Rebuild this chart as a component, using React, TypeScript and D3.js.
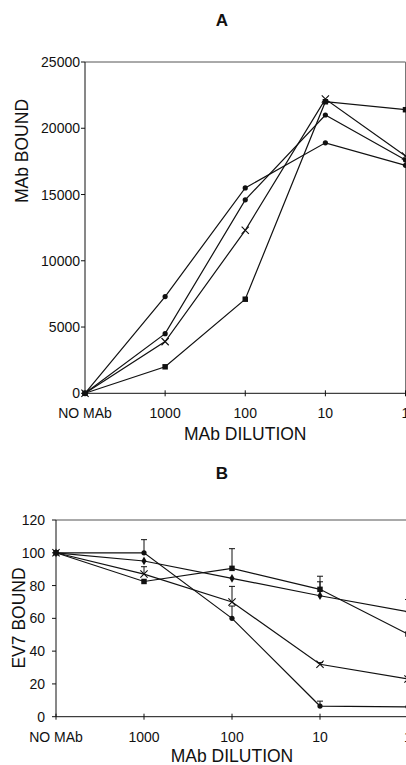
import React from 'react'
import * as d3 from 'd3'

const dilutions = ['NO MAb', '1000', '100', '10', '1']

// panel A - MAb bound
const boundTicks = [0, 5000, 10000, 15000, 20000, 25000]
const boundCircleHi = [0, 7300, 15500, 18900, 17200]
const boundCircleLo = [0, 4500, 14600, 21000, 17600]
const boundCross = [0, 3900, 12300, 22200, 17900]
const boundSquare = [0, 2000, 7100, 22000, 21400]

// panel B - EV7 bound (%), with upper error bars
const ev7Ticks = [0, 20, 40, 60, 80, 100, 120]
const ev7Circle = [100, 100, 60, 6.5, 6]
const ev7CircleErr = [0, 8, 7.5, 3, 0]
const ev7Square = [100, 82.5, 90.5, 77.7, 50.4]
const ev7SquareErr = [0, 0, 12, 8, 0]
const ev7Diamond = [100, 95, 84.4, 73.8, 64]
const ev7DiamondErr = [0, 0, 0, 8.5, 7.5]
const ev7Cross = [100, 87, 70, 32, 23]
const ev7CrossErr = [0, 4.5, 9.5, 1, 0]

const font = "'Liberation Sans', Arial, Helvetica, sans-serif"
const ink = '#111'

const symTimes = (d3 as any).symbolTimes ?? d3.symbolCross

function Marker({ kind, x, y }: { kind: string; x: number; y: number }) {
  if (kind === 'circle') return <circle cx={x} cy={y} r={2.6} fill={ink} />
  if (kind === 'square') {
    return <path d={d3.symbol(d3.symbolSquare, 30)()!} transform={`translate(${x},${y})`} fill={ink} />
  }
  if (kind === 'diamond') {
    return <path d={d3.symbol(d3.symbolDiamond, 22)()!} transform={`translate(${x},${y})`} fill={ink} />
  }
  // cross (x mark with a bar)
  return (
    <g transform={`translate(${x},${y})`} stroke={ink} strokeWidth={1.1} fill="none">
      <path d={d3.symbol(symTimes, 36)()!} />
    </g>
  )
}

type Series = { values: number[]; kind: string; err?: number[] }

function Panel(props: {
  title: string
  titleY: number
  series: Series[]
  ticks: number[]
  yDomain: [number, number]
  yRange: [number, number]
  xRange: [number, number]
  rightEdge: number
  labelEnd: number
  yTitle: string
  yTitleX: number
  yTitleY: number
  xLabelY: number
  xTitleY: number
}) {
  const x = d3.scalePoint<string>().domain(dilutions).range(props.xRange)
  const y = d3.scaleLinear().domain(props.yDomain).range(props.yRange)
  const [x0] = props.xRange
  const [yBottom, yTop] = props.yRange
  const line = d3
    .line<number>()
    .x((_, i) => x(dilutions[i])!)
    .y(d => y(d))
  const xMid = (x0 + props.xRange[1]) / 2

  return (
    <g fontFamily={font} fill={ink}>
      <text x={222} y={props.titleY} textAnchor="middle" fontSize={17} fontWeight="bold">
        {props.title}
      </text>
      {/* frame */}
      <line x1={x0} x2={props.rightEdge} y1={yTop} y2={yTop} stroke="#555" strokeWidth={1} />
      <line x1={props.rightEdge} x2={props.rightEdge} y1={yTop} y2={yBottom} stroke="#777" strokeWidth={1} />
      <line x1={x0} x2={x0} y1={yTop} y2={yBottom} stroke={ink} strokeWidth={1} />
      <line x1={x0} x2={props.rightEdge + 4} y1={yBottom} y2={yBottom} stroke={ink} strokeWidth={1} />
      {/* y axis */}
      {props.ticks.map(t => (
        <g key={t}>
          <line x1={x0 - 4} x2={x0} y1={y(t)} y2={y(t)} stroke={ink} />
          <text x={props.labelEnd} y={y(t)} dy="0.36em" textAnchor="end" fontSize={14}>
            {t}
          </text>
        </g>
      ))}
      {/* x axis */}
      {dilutions.map(d => (
        <g key={d}>
          <line x1={x(d)} x2={x(d)} y1={yBottom - 3} y2={yBottom + 3} stroke={ink} />
          <text x={x(d)} y={props.xLabelY} textAnchor="middle" fontSize={14}>
            {d}
          </text>
        </g>
      ))}
      <text x={xMid} y={props.xTitleY} textAnchor="middle" fontSize={17.5}>
        MAb DILUTION
      </text>
      <text
        transform={`translate(${props.yTitleX},${props.yTitleY}) rotate(-90)`}
        textAnchor="middle"
        dy="0.36em"
        fontSize={17.5}
      >
        {props.yTitle}
      </text>
      {/* error bars */}
      {props.series.map((s, si) =>
        (s.err || []).map((e, i) =>
          e > 0 ? (
            <g key={`e${si}-${i}`} stroke={ink} strokeWidth={1}>
              <line x1={x(dilutions[i])} x2={x(dilutions[i])} y1={y(s.values[i])} y2={y(s.values[i] + e)} />
              <line
                x1={x(dilutions[i])! - 3}
                x2={x(dilutions[i])! + 3}
                y1={y(s.values[i] + e)}
                y2={y(s.values[i] + e)}
              />
            </g>
          ) : null
        )
      )}
      {/* lines */}
      {props.series.map((s, si) => (
        <path key={`l${si}`} d={line(s.values)!} fill="none" stroke={ink} strokeWidth={1.2} />
      ))}
      {props.series.map((s, si) =>
        s.values.map((v, i) => <Marker key={`m${si}-${i}`} kind={s.kind} x={x(dilutions[i])!} y={y(v)} />)
      )}
    </g>
  )
}

export default function App() {
  const seriesA: Series[] = [
    { values: boundCircleHi, kind: 'circle' },
    { values: boundCircleLo, kind: 'circle' },
    { values: boundCross, kind: 'cross' },
    { values: boundSquare, kind: 'square' },
  ]
  const seriesB: Series[] = [
    { values: ev7Circle, kind: 'circle', err: ev7CircleErr },
    { values: ev7Square, kind: 'square', err: ev7SquareErr },
    { values: ev7Diamond, kind: 'diamond', err: ev7DiamondErr },
    { values: ev7Cross, kind: 'cross', err: ev7CrossErr },
  ]
  return (
    <svg
      width={406}
      height={765}
      style={{ position: 'absolute', left: 0, top: 0, background: '#fff' }}
      overflow="hidden"
    >
      <rect width={406} height={765} fill="#fff" />
      <Panel
        title="A"
        titleY={26}
        series={seriesA}
        ticks={boundTicks}
        yDomain={[0, 25000]}
        yRange={[393.3, 62]}
        xRange={[85, 405.5]}
        rightEdge={405.5}
        labelEnd={80}
        yTitle="MAb BOUND"
        yTitleX={22}
        yTitleY={151}
        xLabelY={418}
        xTitleY={440}
      />
      <Panel
        title="B"
        titleY={479}
        series={seriesB}
        ticks={ev7Ticks}
        yDomain={[0, 120]}
        yRange={[716.7, 520]}
        xRange={[56, 408]}
        rightEdge={408}
        labelEnd={45}
        yTitle="EV7 BOUND"
        yTitleX={19}
        yTitleY={618}
        xLabelY={742}
        xTitleY={762}
      />
    </svg>
  )
}
